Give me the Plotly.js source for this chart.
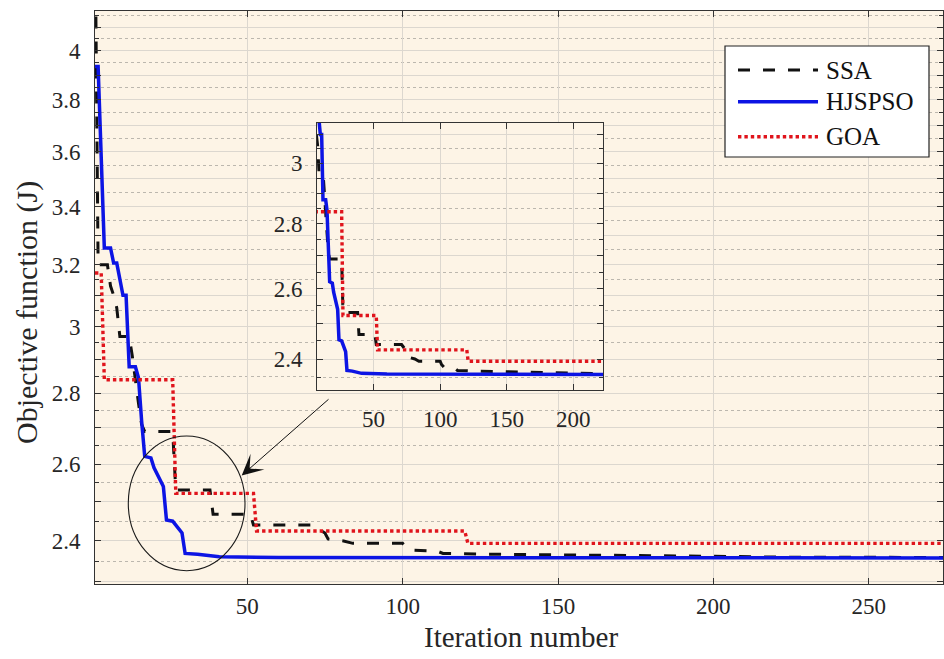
<!DOCTYPE html>
<html>
<head>
<meta charset="utf-8">
<script src="https://cdn.plot.ly/plotly-3.0.1.min.js"></script>
<style>
  html, body { margin: 0; padding: 0; background: #ffffff; }
  #chart { width: 944px; height: 659px; }
</style>
</head>
<body>
<div id="chart"></div>
<script>
// Convergence curves: best objective value per iteration
const seriesNames = ['SSA', 'HJSPSO', 'GOA'];

const ssaIter = [1, 2, 5, 6, 7, 8, 9, 12, 13, 14, 15, 16, 17, 26, 27, 38, 39, 51, 52, 71, 73, 75, 76, 81, 84, 100, 101, 103, 111, 113, 130, 150, 175, 200, 220, 275];
const ssaVal  = [4.6, 3.2, 3.2, 3.13, 3.10, 3.06, 2.97, 2.97, 2.91, 2.83, 2.77, 2.71, 2.69, 2.69, 2.531, 2.531, 2.468, 2.468, 2.44, 2.44, 2.43, 2.42, 2.405, 2.40, 2.394, 2.394, 2.385, 2.377, 2.375, 2.369, 2.367, 2.366, 2.364, 2.362, 2.360, 2.359];

const hjIter = [1, 2, 3, 4, 6, 7, 8, 10, 11, 12, 14, 15, 16, 17, 19, 20, 23, 24, 26, 28, 29, 30, 34, 41, 60, 275];
const hjVal  = [3.935, 3.935, 3.58, 3.257, 3.257, 3.206, 3.206, 3.10, 3.10, 2.878, 2.878, 2.845, 2.72, 2.621, 2.617, 2.59, 2.54, 2.453, 2.45, 2.43, 2.42, 2.369, 2.367, 2.361, 2.359, 2.358];

const goaIter = [1, 3, 4, 26, 27, 52, 53, 120, 121, 275];
const goaVal  = [3.173, 3.173, 2.839, 2.839, 2.522, 2.522, 2.425, 2.425, 2.394, 2.394];

// Axis ticks
const xTickVals = [50, 100, 150, 200, 250];
const yTickVals = [2.3, 2.4, 2.5, 2.6, 2.7, 2.8, 2.9, 3.0, 3.1, 3.2, 3.3, 3.4, 3.5, 3.6, 3.7, 3.8, 3.9, 4.0, 4.1];
const yTickText = ['', '2.4', '', '2.6', '', '2.8', '', '3', '', '3.2', '', '3.4', '', '3.6', '', '3.8', '', '4', ''];
const yMinorVals = [2.35, 2.45, 2.55, 2.65, 2.75, 2.85, 2.95, 3.05, 3.15, 3.25, 3.35, 3.45, 3.55, 3.65, 3.75, 3.85, 3.95, 4.05, 4.15];

const zoomXTickVals = [50, 100, 150, 200];
const zoomYTickVals = [2.4, 2.5, 2.6, 2.7, 2.8, 2.9, 3.0, 3.1];
const zoomYTickText = ['2.4', '', '2.6', '', '2.8', '', '3', ''];
const zoomYMinorVals = [2.35, 2.45, 2.55, 2.65, 2.75, 2.85, 2.95, 3.05];

const xTitle = 'Iteration number';
const yTitle = 'Objective function (J)';

// Styles
const SERIF = 'Liberation Serif, Times New Roman, serif';
const styles = {
  SSA:    { color: '#111111', width: 3,   dash: '12px,13px' },
  HJSPSO: { color: '#0c14e4', width: 3.5, dash: 'solid' },
  GOA:    { color: '#e0141c', width: 3.4, dash: '3.4px,3px' }
};
const seriesData = {
  SSA: [ssaIter, ssaVal],
  HJSPSO: [hjIter, hjVal],
  GOA: [goaIter, goaVal]
};

const traces = [];
['x', 'x2'].forEach(function (xa, k) {
  seriesNames.forEach(function (name) {
    const s = styles[name];
    traces.push({
      type: 'scatter', mode: 'lines', name: name,
      x: seriesData[name][0], y: seriesData[name][1],
      xaxis: xa, yaxis: k === 0 ? 'y' : 'y2',
      line: { color: s.color, width: s.width, dash: s.dash },
      showlegend: false, hoverinfo: 'skip'
    });
  });
});

const GRID = '#dcd7cf';
const MINOR_GRID = '#bcb7ae';
const AXIS = '#333333';
const TICKFONT = { family: SERIF, size: 23, color: '#262626' };

function xAxisCfg(range, vals, domain, anchor, standoff) {
  return {
    range: range, domain: domain, anchor: anchor,
    tickmode: 'array', tickvals: vals,
    ticks: 'inside', ticklen: 6, tickcolor: AXIS, tickwidth: 1,
    showline: true, linecolor: AXIS, linewidth: 1, mirror: 'ticks',
    showgrid: true, gridcolor: GRID, gridwidth: 1,
    zeroline: false, tickfont: TICKFONT, ticklabelstandoff: standoff
  };
}
function yAxisCfg(range, vals, text, minorVals, domain, anchor) {
  return {
    type: 'log', range: range, domain: domain, anchor: anchor,
    tickmode: 'array', tickvals: vals, ticktext: text,
    ticks: 'inside', ticklen: 6, tickcolor: AXIS, tickwidth: 1,
    showline: true, linecolor: AXIS, linewidth: 1, mirror: 'ticks',
    showgrid: true, gridcolor: GRID, gridwidth: 1,
    minor: {
      tickmode: 'array', tickvals: minorVals,
      ticks: 'inside', ticklen: 4, tickcolor: AXIS,
      showgrid: true, gridcolor: MINOR_GRID, gridwidth: 1, griddash: 'dot'
    },
    zeroline: false, tickfont: TICKFONT, ticklabelstandoff: 9
  };
}

// Plot area geometry (pixels) used for the paper-anchored decorations
const L = 95, R = 943, T = 11, B = 584;
const px = v => (v - L) / (R - L);
const py = v => (B - v) / (B - T);

const legendRows = [
  { name: 'SSA', y: 70 },
  { name: 'HJSPSO', y: 101.7 },
  { name: 'GOA', y: 136.7 }
];

const shapes = [
  // legend box
  { type: 'rect', xref: 'paper', yref: 'paper',
    x0: px(725), x1: px(929), y0: py(157), y1: py(46),
    fillcolor: '#ffffff', line: { color: '#222222', width: 1.2 } },
  // zoom region marker
  { type: 'circle', xref: 'paper', yref: 'paper',
    x0: px(128.3), x1: px(245), y0: py(570.7), y1: py(436),
    line: { color: '#1a1a1a', width: 1.1 } }
];
legendRows.forEach(function (r) {
  const s = styles[r.name];
  shapes.push({ type: 'line', xref: 'paper', yref: 'paper',
    x0: px(738), x1: px(818), y0: py(r.y), y1: py(r.y),
    line: { color: s.color, width: s.width, dash: s.dash } });
});

const annotations = legendRows.map(function (r) {
  return { xref: 'paper', yref: 'paper', x: px(824), y: py(r.y),
    xanchor: 'left', yanchor: 'middle', showarrow: false, text: r.name,
    font: { family: SERIF, size: 25, color: '#111111' } };
});
annotations.push({
  xref: 'paper', yref: 'paper', x: px(241.7), y: py(475.5),
  text: '', showarrow: true, arrowhead: 3, arrowsize: 3.5, arrowwidth: 1,
  arrowcolor: '#111111', ax: 330 - 241.7, ay: 398 - 475.5, standoff: 0
});
// axis titles
annotations.push({
  xref: 'paper', yref: 'paper', x: px(27), y: py(313),
  xanchor: 'center', yanchor: 'middle', textangle: -90, showarrow: false,
  text: yTitle, font: { family: SERIF, size: 30, color: '#262626' }
});
annotations.push({
  xref: 'paper', yref: 'paper', x: px(521), y: py(637),
  xanchor: 'center', yanchor: 'middle', showarrow: false,
  text: xTitle, font: { family: SERIF, size: 29, color: '#262626' }
});

const layout = {
  width: 944, height: 659,
  margin: { l: L, r: 944 - R, t: T, b: 659 - B },
  paper_bgcolor: '#ffffff',
  plot_bgcolor: '#fdf4e6',
  font: { family: SERIF, color: '#262626' },
  showlegend: false,
  xaxis: xAxisCfg([1, 273.9], xTickVals, [0, 1], 'y', 1),
  yaxis: yAxisCfg([0.36074, 0.62003], yTickVals, yTickText, yMinorVals, [0, 1], 'x'),
  xaxis2: xAxisCfg([7.5, 222.5], zoomXTickVals, [px(317), px(603.3)], 'y2', 8),
  yaxis2: yAxisCfg([0.36486, 0.49723], zoomYTickVals, zoomYTickText, zoomYMinorVals, [py(390), py(122.7)], 'x2'),
  shapes: shapes,
  annotations: annotations
};

Plotly.newPlot('chart', traces, layout, { displayModeBar: false, staticPlot: true });
</script>
</body>
</html>
